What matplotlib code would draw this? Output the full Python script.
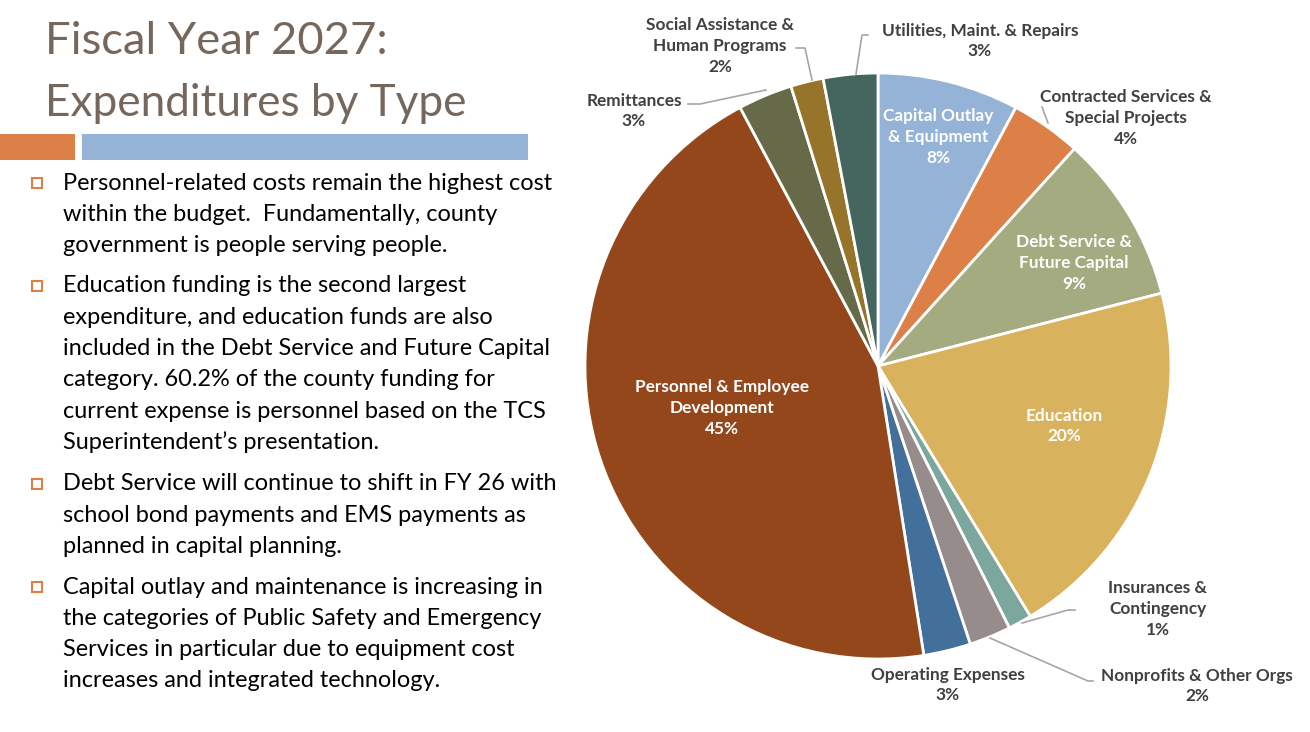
import matplotlib
matplotlib.use("Agg")
import matplotlib.pyplot as plt
from matplotlib.patches import Rectangle

W, H = 1310, 732

categories = ["Capital Outlay\n& Equipment", "Contracted Services &\nSpecial Projects",
              "Debt Service &\nFuture Capital", "Education", "Insurances &\nContingency",
              "Nonprofits & Other Orgs", "Operating Expenses",
              "Personnel & Employee\nDevelopment", "Remittances",
              "Social Assistance &\nHuman Programs", "Utilities, Maint. & Repairs"]
values = [7.8, 3.9, 9.3, 20.3, 1.3, 2.3, 2.6, 44.7, 3.0, 1.8, 3.0]
colors = ["#95B3D7", "#DD8047", "#A5AB81", "#D8B25C", "#7BA79D", "#968C8C",
          "#42709A", "#93471B", "#676A48", "#96742A", "#45655F"]

title_lines = ["Fiscal Year 2027:", "Expenditures by Type"]
bullets = [
    ["Personnel-related costs remain the highest cost",
     "within the budget.  Fundamentally, county",
     "government is people serving people."],
    ["Education funding is the second largest",
     "expenditure, and education funds are also",
     "included in the Debt Service and Future Capital",
     "category. 60.2% of the county funding for",
     "current expense is personnel based on the TCS",
     "Superintendent\u2019s presentation."],
    ["Debt Service will continue to shift in FY 26 with",
     "school bond payments and EMS payments as",
     "planned in capital planning."],
    ["Capital outlay and maintenance is increasing in",
     "the categories of Public Safety and Emergency",
     "Services in particular due to equipment cost",
     "increases and integrated technology."],
]

fig = plt.figure(figsize=(W / 100, H / 100), dpi=100)
fig.patch.set_facecolor("white")

def fx(px):
    return px / W

def fy(py):
    return 1 - py / H

# Title
tfont = "Lato"
fig.text(fx(45), fy(42), title_lines[0], fontsize=32.7, color="#76675C",
         family=tfont, va="center", ha="left")
fig.text(fx(45), fy(103), title_lines[1], fontsize=31.8, color="#76675C",
         family=tfont, va="center", ha="left")

# Decorative bars
fig.patches.append(Rectangle((fx(0), fy(160)), fx(75), 26 / H, transform=fig.transFigure,
                             facecolor="#DD8047", edgecolor="none"))
fig.patches.append(Rectangle((fx(82), fy(160)), fx(528 - 82), 26 / H, transform=fig.transFigure,
                             facecolor="#95B3D7", edgecolor="none"))

# Bullets
starts = [183, 286, 484, 587]
lh = 31.3
for b, y0 in zip(bullets, starts):
    fig.patches.append(Rectangle((fx(32), fy(y0 + 5)), 10 / W, 10 / H, transform=fig.transFigure,
                                 facecolor="none", edgecolor="#DD8047", linewidth=1.5))
    for i, line in enumerate(b):
        fig.text(fx(63), fy(y0 + i * lh), line, fontsize=16.9, color="black",
                 family=tfont, va="center", ha="left")

# Pie
cx, cy, R = 878, 366, 293
ax = fig.add_axes([fx(cx - R), (H - cy - R) / H, 2 * R / W, 2 * R / H])
ax.pie(values, colors=colors, startangle=90, counterclock=False,
       wedgeprops=dict(edgecolor="white", linewidth=2))
ax.set_xlim(-1, 1)
ax.set_ylim(-1, 1)
ax.set_aspect("auto")
ax.axis("off")

def d(px, py):
    return ((px - cx) / R, (cy - py) / R)

pct = [f"{round(v):d}%" for v in values]
labels = [c + "\n" + p for c, p in zip(categories, pct)]

inside = {0: (938, 137), 2: (1074, 263), 3: (1064, 426), 7: (722, 408)}
outside = {1: (1126, 118), 4: (1158, 609), 5: (1197, 686), 6: (948, 685),
           8: (634, 111), 9: (720, 46), 10: (980, 41)}
lfont = "Lato"
fs = 12.4
for i, (px, py) in inside.items():
    x, y = d(px, py)
    ax.text(x, y, labels[i], ha="center", va="center", color="white",
            fontsize=fs, fontweight="bold", family=lfont, linespacing=1.35)
for i, (px, py) in outside.items():
    x, y = d(px, py)
    ax.text(x, y, labels[i], ha="center", va="center", color="#404040",
            fontsize=fs, fontweight="bold", family=lfont, linespacing=1.35, clip_on=False)

leaders = [
    [(688, 104), (700, 104), (766, 90)],     # Remittances
    [(796, 48), (805, 48), (812, 80)],       # Social
    [(868, 35), (862, 35), (856, 74)],       # Utilities
    [(1042, 107), (1048, 123)],              # Contracted
    [(1075, 610), (1068, 610), (1022, 623)], # Insurances
    [(1093, 681), (1088, 681), (990, 638)],  # Nonprofits
]
for pts in leaders:
    xs, ys = zip(*[d(*p) for p in pts])
    ax.plot(xs, ys, color="#A6A6A6", linewidth=1.2, clip_on=False)

fig.savefig("out.png", dpi=100, facecolor="white")
